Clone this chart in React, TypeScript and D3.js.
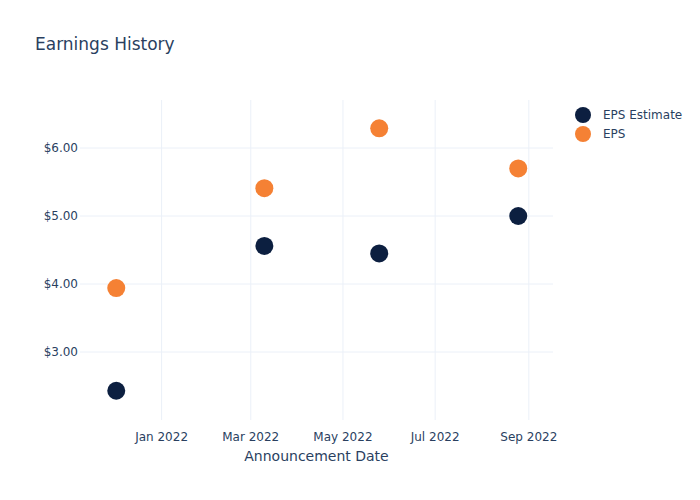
import React from "react";
import * as d3 from "d3";

const dates = ["2021-12-02", "2022-03-10", "2022-05-25", "2022-08-25"];
const epsEstimate = [2.43, 4.56, 4.45, 5.0];
const epsActual = [3.94, 5.41, 6.29, 5.7];
const yTicks = [3, 4, 5, 6];
const xTickDates = ["2022-01-01", "2022-03-01", "2022-05-01", "2022-07-01", "2022-09-01"];
const seriesNames = ["EPS Estimate", "EPS"];
const seriesColors = ["#0c1f40", "#f58134"];

const W = 700, H = 500;
const L = 80, R = 553, T = 100, B = 420;
const FONT = "'DejaVu Sans', Verdana, sans-serif";
const TXT = "#2a3f5f";
const GRID = "#ebf0f8";

export default function App() {
  const parse = d3.utcParse("%Y-%m-%d");
  const x = d3.scaleUtc()
    .domain([parse("2021-11-08")!, parse("2022-09-17")!])
    .range([L, R]);
  const y = d3.scaleLinear().domain([2.0, 6.706]).range([B, T]);
  const fmtX = d3.utcFormat("%b %Y");
  const fmtY = (v: number) => "$" + d3.format(".2f")(v);
  const series = [epsEstimate, epsActual];

  return (
    <svg width={W} height={H} style={{ position: "absolute", left: 0, top: 0, background: "#fff" }} fontFamily={FONT}>
      {xTickDates.map((d) => {
        const xx = x(parse(d)!);
        return (
          <g key={d}>
            <line x1={xx} x2={xx} y1={T} y2={B} stroke={GRID} strokeWidth={1} />
            <text x={xx} y={B + 13} dy="0.7em" textAnchor="middle" fontSize={12} fill={TXT}>{fmtX(parse(d)!)}</text>
          </g>
        );
      })}
      {yTicks.map((v) => (
        <g key={v}>
          <line x1={L} x2={R} y1={y(v)} y2={y(v)} stroke={GRID} strokeWidth={1} />
          <text x={L - 2} y={y(v)} dy="0.35em" textAnchor="end" fontSize={12} fill={TXT}>{fmtY(v)}</text>
        </g>
      ))}
      {series.map((vals, si) =>
        vals.map((v, i) => (
          <circle key={si + "-" + i} cx={x(parse(dates[i])!)} cy={y(v)} r={9} fill={seriesColors[si]} />
        ))
      )}
      <text x={35} y={44} dy="0.35em" fontSize={17} fill={TXT}>Earnings History</text>
      <text x={(L + R) / 2} y={456} dy="0.35em" textAnchor="middle" fontSize={14} fill={TXT}>Announcement Date</text>
      {seriesNames.map((n, i) => (
        <g key={n} transform={`translate(583, ${115 + i * 19})`}>
          <circle cx={0} cy={0} r={8} fill={seriesColors[i]} />
          <text x={20} y={0} dy="0.35em" fontSize={12} fill={TXT}>{n}</text>
        </g>
      ))}
    </svg>
  );
}
